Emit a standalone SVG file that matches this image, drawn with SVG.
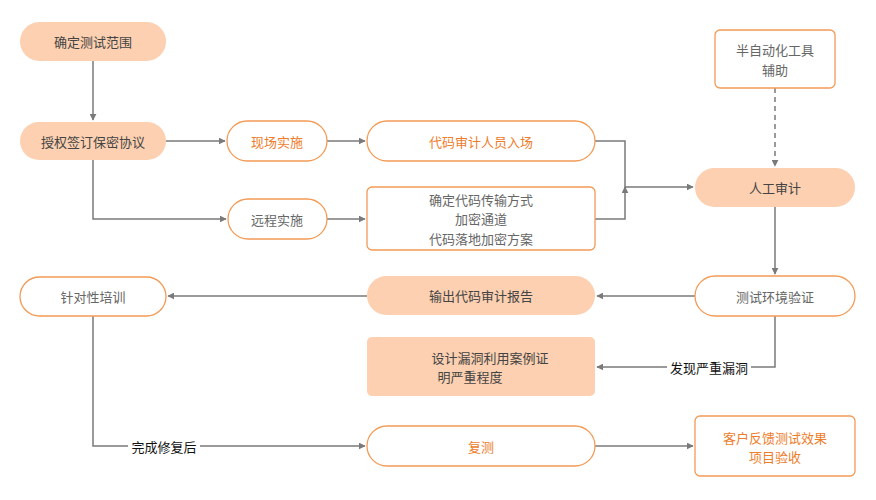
<svg xmlns="http://www.w3.org/2000/svg" width="876" height="500" viewBox="0 0 876 500">
<defs>
<marker id="ah" viewBox="0 0 10 10" refX="9" refY="5" markerWidth="7" markerHeight="7" orient="auto" markerUnits="userSpaceOnUse"><path d="M0,0L10,5L0,10z" fill="#7a7a7a"/></marker>
<style>
text{font-family:"Noto Sans CJK SC","Liberation Sans",sans-serif;font-size:13px;text-anchor:middle;dominant-baseline:central}
.f{fill:#fcd0b0;stroke:none}
.o{fill:#fff;stroke:#f39a55;stroke-width:1.3}
.tg{fill:#666}
.td{fill:#444}
.to{fill:#ee7d2c}
.c{fill:none;stroke:#7a7a7a;stroke-width:1.5;marker-end:url(#ah)}
.l{fill:#111}
</style>
</defs>
<rect width="876" height="500" fill="#fff"/>
<g id="connectors">
<path class="c" d="M93,61V120"/>
<path class="c" d="M166,141H225"/>
<path class="c" d="M93,160V219H226"/>
<path class="c" d="M327,141H365"/>
<path class="c" d="M327,219H365"/>
<path class="c" d="M595,141H625V187H693"/>
<path class="c" d="M595,219H625V187"/>
<path class="c" d="M775,88V166" stroke-dasharray="5,4"/>
<path class="c" d="M775,207V274"/>
<path class="c" d="M695,296H597"/>
<path class="c" d="M367,296H168"/>
<path class="c" d="M775,316V367H597"/>
<rect x="667" y="358" width="84" height="18" fill="#fff"/>
<text class="l" x="709" y="367">发现严重漏洞</text>
<path class="c" d="M93,316V446H365"/>
<rect x="128" y="437" width="72" height="18" fill="#fff"/>
<text class="l" x="164" y="446">完成修复后</text>
<path class="c" d="M595,446H693"/>
</g>
<g id="n1"><rect class="f" x="20" y="22" width="146" height="39" rx="19.5"/><text class="td" x="93" y="41.5">确定测试范围</text></g>
<g id="n2"><rect class="f" x="20" y="122" width="146" height="38" rx="19"/><text class="td" x="93" y="141">授权签订保密协议</text></g>
<g id="n3"><rect class="o" x="227" y="121" width="100" height="40" rx="20"/><text class="to" x="277" y="141">现场实施</text></g>
<g id="n4"><rect class="o" x="367" y="121" width="228" height="40" rx="20"/><text class="to" x="481" y="141">代码审计人员入场</text></g>
<g id="n5"><rect class="o" x="228" y="199" width="99" height="40" rx="20"/><text class="tg" x="277" y="219">远程实施</text></g>
<g id="n6"><rect class="o" x="367" y="187" width="228" height="63" rx="5"/><text class="tg" x="481" y="199">确定代码传输方式</text><text class="tg" x="481" y="218">加密通道</text><text class="tg" x="481" y="238">代码落地加密方案</text></g>
<g id="n7"><rect class="o" x="715" y="30" width="120" height="58" rx="5"/><text class="tg" x="775" y="49">半自动化工具</text><text class="tg" x="775" y="69">辅助</text></g>
<g id="n8"><rect class="f" x="695" y="168" width="160" height="39" rx="19.5"/><text class="td" x="775" y="187.5">人工审计</text></g>
<g id="n9"><rect class="o" x="695" y="276" width="160" height="40" rx="20"/><text class="tg" x="775" y="296">测试环境验证</text></g>
<g id="n10"><rect class="f" x="367" y="276" width="228" height="39" rx="19.5"/><text class="td" x="481" y="295.5">输出代码审计报告</text></g>
<g id="n11"><rect class="o" x="20" y="277" width="146" height="39" rx="19.5"/><text class="tg" x="93" y="296.5">针对性培训</text></g>
<g id="n12"><rect class="f" x="367" y="337" width="228" height="59" rx="5"/><text class="td" x="490" y="357">设计漏洞利用案例证</text><text class="td" x="470" y="376">明严重程度</text></g>
<g id="n13"><rect class="o" x="367" y="426" width="228" height="40" rx="20"/><text class="to" x="481" y="446">复测</text></g>
<g id="n14"><rect class="o" x="695" y="416" width="160" height="60" rx="5"/><text class="to" x="775" y="437">客户反馈测试效果</text><text class="to" x="775" y="456">项目验收</text></g>
</svg>
